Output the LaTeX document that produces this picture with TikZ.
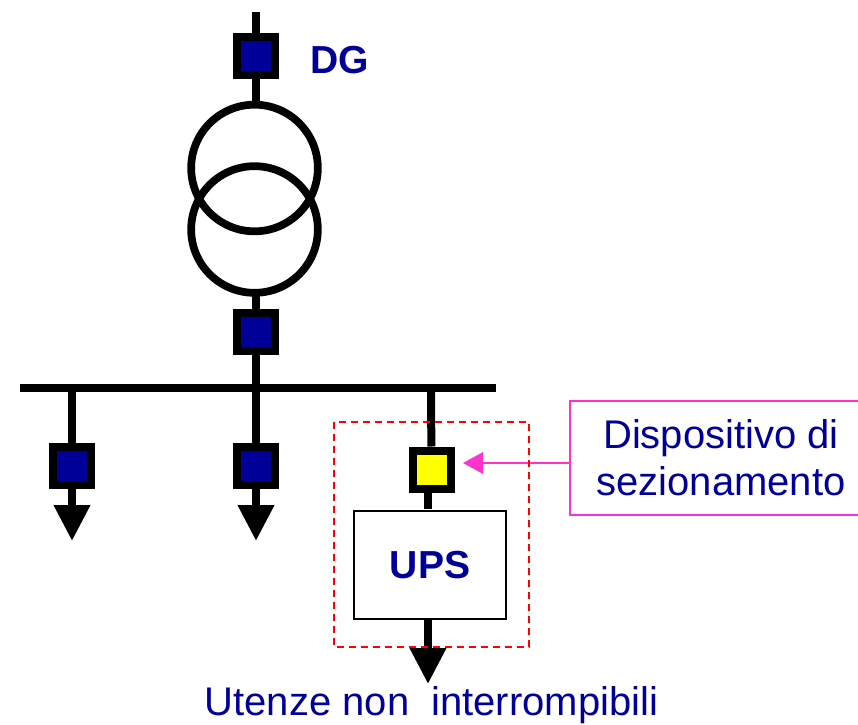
\documentclass[tikz,border=0pt]{standalone}
\usepackage{fontspec}
\setmainfont{Liberation Sans}
\usetikzlibrary{positioning,arrows.meta}
\definecolor{navyblu}{HTML}{000099}
\definecolor{rosa}{HTML}{FF33CC}
\definecolor{giallo}{RGB}{255,255,0}
\definecolor{rosso}{RGB}{255,0,0}

\tikzset{
  brk/.style={draw=black,line width=6pt,fill=navyblu,minimum size=28.5pt,inner sep=0pt},
  sez/.style={brk,fill=giallo},
  trafo/.style={draw=black,line width=5.8pt,circle,minimum size=95pt,inner sep=0pt},
  wire/.style={black,line width=6pt},
  load/.style={wire,-{Triangle[length=27pt,width=26pt]}},
  etic/.style={text=navyblu,font=\fontsize{30}{35}\selectfont,align=center},
  etib/.style={text=navyblu,font=\fontsize{29.3}{34}\selectfont\bfseries}
}

\begin{document}
\begin{tikzpicture}[x=0.75pt,y=-0.75pt]
\useasboundingbox (0,0) rectangle (858,725);

\coordinate (top) at (256,12);
\coordinate (busL) at (20,387.5);
\coordinate (busR) at (496,387.5);
\coordinate (tap1) at (72,387.5);
\coordinate (tap2) at (256,387.5);
\coordinate (tap3) at (431,387.5);

\node[brk]		(dg)		at (256,56)	{};
\node[trafo]		(tr_up)		at (254.5,168)	{};
\node[trafo]		(tr_dn)		at (254.5,229.5)	{};
\node[brk]		(mt)		at (256,331.5)	{};
\node[brk]		(brk1)		at (72,465.5)	{};
\node[brk]		(brk2)		at (256,465.5)	{};
\node[sez]		(sz)		at (431.5,469.5)	{};
\node[draw=black,line width=1.6pt,minimum width=114pt,minimum height=81pt,inner sep=0pt,etib] (ups) at (430,565) {UPS};

\coordinate (tr_in) at (256,106);
\coordinate (tr_out) at (256,292);
\coordinate (end1) at (72,541);
\coordinate (end2) at (256,541);
\coordinate (ups_in) at (428,509);
\coordinate (sz_out) at (428,490);
\coordinate (ups_out) at (428,620);
\coordinate (end3) at (428,684);

% lines
\draw[wire] (top) -- (dg);
\draw[wire] (dg) -- (tr_in);
\draw[wire] (tr_out) -- (mt);
\draw[wire] (mt) -- (tap2);
\draw[wire] (busL) -- (busR);
\draw[wire] (tap1) -- (brk1);
\draw[wire] (tap2) -- (brk2);
\draw[wire] (tap3) -- (sz);
\draw[wire] (sz_out) -- (ups_in);
\draw[load] (brk1) -- (end1);
\draw[load] (brk2) -- (end2);
\draw[load] (ups_out) -- (end3);

\node[etib, anchor=west]	(dg_txt)	at (306,60)	{DG};
\node[draw=rosa,line width=1.5pt,minimum width=227pt,minimum height=85pt,inner sep=0pt,etic] (sez_box) at (721,458) {Dispositivo di\\sezionamento};
\node[etic]		(utenze)	at (431.5,705)	{Utenze non\ \ interrompibili};

\draw[draw=rosa,line width=1.6pt,-{Triangle[length=15pt,width=16pt]}] (sez_box.west |- 0,463) -- (463,463);

% red frame
\draw[rosso,line width=1.5pt,dash pattern=on 5.5pt off 3.5pt] (334,422) rectangle (529,647);
\end{tikzpicture}
\end{document}
